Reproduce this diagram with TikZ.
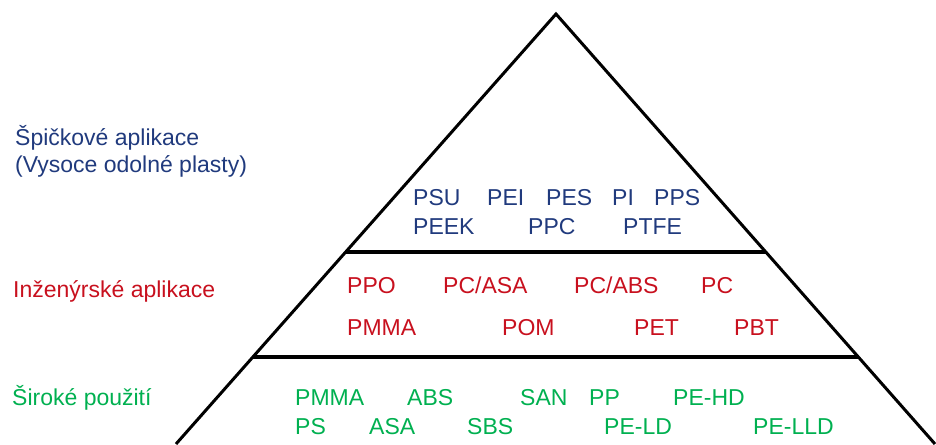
\documentclass[tikz,border=0pt]{standalone}
\usepackage{fontspec}
\setmainfont{Liberation Sans}
\usepackage{tikz}
\usetikzlibrary{calc}
\definecolor{hiblue}{RGB}{32,58,125}
\definecolor{engred}{RGB}{200,16,30}
\definecolor{widegreen}{RGB}{0,176,80}

\begin{document}
\begin{tikzpicture}[x=1pt, y=-1pt,
		lbl/.style={anchor=base west, inner sep=0pt, font=\fontsize{23}{28}\selectfont},
		hi/.style={lbl, text=hiblue},
		eng/.style={lbl, text=engred},
		wide/.style={lbl, text=widegreen},
		side/.style={draw, line width=3pt},
		shelf/.style={draw, line width=4.5pt}]
		\clip (0,0) rectangle (936,444);

		% pyramid
		\coordinate (apex) at (556,14);
		\coordinate (bl) at (176,444);
		\coordinate (br) at (935,444);
		\coordinate (l1) at ($(apex)!0.5535!(bl)$);
		\coordinate (r1) at ($(apex)!0.5535!(br)$);
		\coordinate (l2) at ($(apex)!0.7977!(bl)$);
		\coordinate (r2) at ($(apex)!0.7977!(br)$);

		\path[side] (bl) -- (apex) -- (br);
		\path[shelf] (l1) -- (r1);
		\path[shelf] (l2) -- (r2);

		% left labels
		\node[hi] (hitop) at (15,145) {Špičkové aplikace};
		\node[hi] (hibot) at (15,172) {(Vysoce odolné plasty)};
		\node[eng] (englbl) at (13,297) {Inženýrské aplikace};
		\node[wide] (widelbl) at (12,405) {Široké použití};

		% top tier
		\node[hi] (psu) at (413,205) {PSU};
		\node[hi] (pei) at (487,205) {PEI};
		\node[hi] (pes) at (546,205) {PES};
		\node[hi] (pi) at (612,205) {PI};
		\node[hi] (pps) at (654,205) {PPS};
		\node[hi] (peek) at (413,234) {PEEK};
		\node[hi] (ppc) at (528,234) {PPC};
		\node[hi] (ptfe) at (623,234) {PTFE};

		% middle tier
		\node[eng] (ppo) at (347,293) {PPO};
		\node[eng] (pcasa) at (443,293) {PC/ASA};
		\node[eng] (pcabs) at (574,293) {PC/ABS};
		\node[eng] (pc) at (701,293) {PC};
		\node[eng] (pmmaeng) at (347,335) {PMMA};
		\node[eng] (pom) at (502,335) {POM};
		\node[eng] (pet) at (634,335) {PET};
		\node[eng] (pbt) at (734,335) {PBT};

		% bottom tier
		\node[wide] (pmma) at (295,405) {PMMA};
		\node[wide] (abs) at (407,405) {ABS};
		\node[wide] (san) at (520,405) {SAN};
		\node[wide] (pp) at (589,405) {PP};
		\node[wide] (pehd) at (673,405) {PE-HD};
		\node[wide] (ps) at (295,434) {PS};
		\node[wide] (asa) at (369,434) {ASA};
		\node[wide] (sbs) at (467,434) {SBS};
		\node[wide] (peld) at (604,434) {PE-LD};
		\node[wide] (pelld) at (753,434) {PE-LLD};
\end{tikzpicture}
\end{document}
